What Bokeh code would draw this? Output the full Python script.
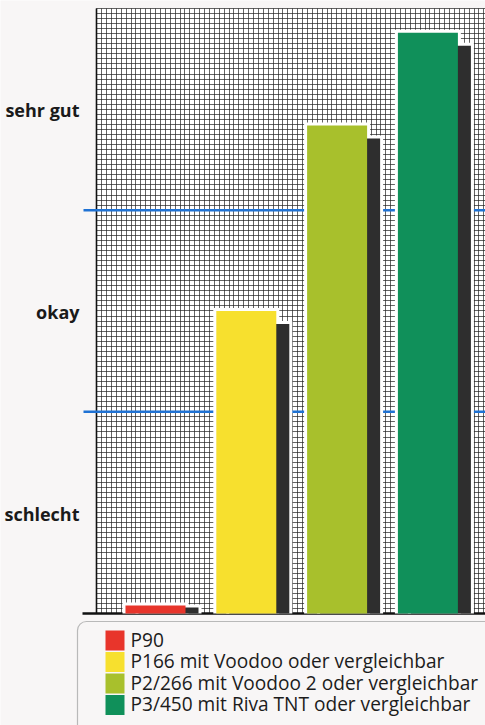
import numpy as np
from bokeh.plotting import figure
from bokeh.models import Range1d, Grid, SingleIntervalTicker
from bokeh.core.properties import value
from bokeh.embed import file_html
from bokeh.resources import INLINE

# ---------------- data ----------------
CATEGORIES = [
    "P90",
    "P166 mit Voodoo oder vergleichbar",
    "P2/266 mit Voodoo 2 oder vergleichbar",
    "P3/450 mit Riva TNT oder vergleichbar",
]
VALUES = [0.04, 1.50, 2.42, 2.88]
COLORS = ["#e8352b", "#f7e02e", "#a8c02c", "#10905a"]
LEVEL_LABELS = ["schlecht", "okay", "sehr gut"]
LEVEL_POS = [0.5, 1.5, 2.5]
THRESHOLDS = [1, 2]

# ---------------- layout (pixels on page) ----------------
W, H = 485, 725
PX_PER_X = 90.8      # pixels per category step
PX_PER_Y = 201.67    # pixels per rating band
X0_PAGE = 155.0      # page x of first bar centre
Y0_PAGE = 613.0      # page y of baseline

def fx(px):
    return (px - X0_PAGE) / PX_PER_X

def fy(py):
    return (Y0_PAGE - py) / PX_PER_Y

XL, XR = fx(0), fx(W)
YT, YB = fy(0), fy(H)

BG = "#f8f6f6"
xs = np.arange(len(VALUES), dtype=float)
vals = np.array(VALUES)

p = figure(width=W, height=H, x_range=Range1d(XL, XR), y_range=Range1d(YB, YT),
           output_backend="svg", toolbar_location=None,
           x_axis_location=None, y_axis_location=None, min_border=0,
           background_fill_color=BG, border_fill_color=BG, outline_line_color=None)
p.grid.visible = False

GRID_L = fx(96)
GRID_R = XR + 1

# white paper behind the grid
p.quad(left=[GRID_L], right=[GRID_R], bottom=[0], top=[3], fill_color="white",
       line_color=None, level="image")

# fine grid
gx_ticker = SingleIntervalTicker(interval=4.9 / PX_PER_X, num_minor_ticks=0)
gy_ticker = SingleIntervalTicker(interval=1 / 40, num_minor_ticks=0)
try:
    gx = Grid(dimension=0, ticker=gx_ticker, bounds=(GRID_L, GRID_R), cross_bounds=(0, 3))
    gy = Grid(dimension=1, ticker=gy_ticker, bounds=(0, 3), cross_bounds=(GRID_L, GRID_R))
    for g in (gx, gy):
        g.grid_line_color = "#222222"
        g.grid_line_alpha = 0.7
        g.grid_line_width = 1
        p.add_layout(g)
except AttributeError:
    gxs = np.arange(GRID_L, GRID_R, 4.9 / PX_PER_X)
    p.segment(x0=gxs, y0=0, x1=gxs, y1=3, line_color="#222222", line_alpha=0.7, line_width=1)
    gys = np.arange(0, 3.0001, 1 / 40)
    p.segment(x0=GRID_L, y0=gys, x1=GRID_R, y1=gys, line_color="#222222", line_alpha=0.7, line_width=1)

# grid left border and baseline
p.segment(x0=[GRID_L], y0=[0], x1=[GRID_L], y1=[3], line_color="#111111", line_width=1.6)
p.segment(x0=[fx(82)], y0=[0], x1=[GRID_R], y1=[0], line_color="#111111", line_width=2.5)

# threshold lines
p.segment(x0=fx(83), y0=THRESHOLDS, x1=GRID_R, y1=THRESHOLDS,
          line_color="#1f72d4", line_width=2.5)

# bars with shadow and white halo
BAR_W = 60 / PX_PER_X
SH_DX = 13 / PX_PER_X
SH_DY = 13 / PX_PER_Y
HALO_W = 6 / PX_PER_X
HALO_H = 3 / PX_PER_Y
sh_top = np.maximum(vals - SH_DY, 0.03)

p.vbar(x=xs + SH_DX, top=sh_top + HALO_H, bottom=0, width=BAR_W + HALO_W,
       fill_color="white", line_color=None)
p.vbar(x=xs, top=vals + HALO_H, bottom=0, width=BAR_W + HALO_W,
       fill_color="white", line_color=None)
p.vbar(x=xs + SH_DX, top=sh_top, bottom=0, width=BAR_W,
       fill_color="#2e2e2e", line_color=None)
p.vbar(x=xs, top=vals, bottom=0, width=BAR_W, fill_color=COLORS, line_color=None)

# rating labels
p.text(x=[fx(79)] * len(LEVEL_LABELS), y=LEVEL_POS, text=LEVEL_LABELS,
       text_align="right", text_baseline="alphabetic", y_offset=1,
       text_font=value("Open Sans"), text_font_style="bold",
       text_font_size="18px", text_color="#1a1a1a")

# legend box
box_kw = dict(left=[fx(77)], right=[XR + 1], top=[fy(621)], bottom=[YB - 1],
              fill_color=BG, line_color="#b9b9b9", line_width=1.2)
try:
    p.quad(border_radius=9, **box_kw)
except Exception:
    p.quad(**box_kw)

ROW0 = 650.0
PITCH = 21.5
baselines = np.array([ROW0 + i * PITCH for i in range(len(CATEGORIES))])
p.rect(x=fx(114.5), y=fy(baselines - 10), width=19, height=20,
       width_units="screen", height_units="screen",
       fill_color=COLORS, line_color=None)
p.text(x=fx(130), y=fy(baselines - 11), text=CATEGORIES, text_baseline="alphabetic",
       text_font=value("Open Sans"), text_font_size="19.1px", text_color="#1c1c1c")

open("out.html", "w").write(file_html(p, INLINE))
